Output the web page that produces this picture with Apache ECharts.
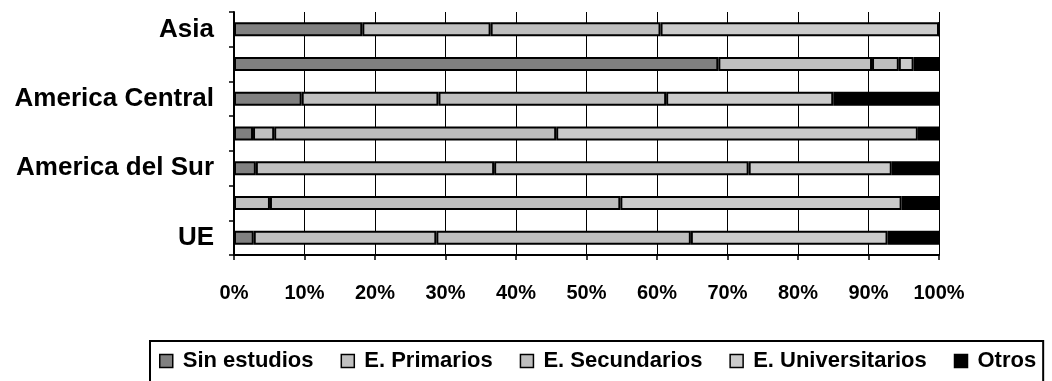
<!DOCTYPE html>
<html>
<head>
<meta charset="utf-8">
<script src="https://cdn.jsdelivr.net/npm/echarts@6/dist/echarts.min.js"></script>
<style>
  html, body { margin: 0; padding: 0; background: #fff; }
  #chart { width: 1052px; height: 381px; }
</style>
</head>
<body>
<div id="chart"></div>
<script>
// Regions, listed from the bottom of the axis upwards
const regions = ['UE', 'Resto de Europa', 'America del Sur', 'America del Norte', 'America Central', 'Africa', 'Asia'];

// Share of each education level per region (%)
const sinEstudios     = [2.8, 0,    3.1,  2.7,  9.6,  68.7, 18.2];
const primarios       = [25.9, 5.1, 33.8, 3.0,  19.4, 21.8, 18.2];
const secundarios     = [36.1, 49.7, 36.1, 40.0, 32.3, 3.8, 24.1];
const universitarios  = [27.9, 39.9, 20.3, 51.3, 23.7, 2.1, 39.5];
const otros           = [7.3, 5.3,  6.7,  3.0,  15.0, 3.6,  0];

const seriesNames = ['Sin estudios', 'E. Primarios', 'E. Secundarios', 'E. Universitarios', 'Otros'];
const seriesData = [sinEstudios, primarios, secundarios, universitarios, otros];
const seriesColors = ['#808080', '#c0c0c0', '#bebebe', '#cbcbcb', '#000000'];

const fontFamily = '"Liberation Sans", Arial, sans-serif';

const chart = echarts.init(document.getElementById('chart'), null, { renderer: 'canvas' });

chart.setOption({
  backgroundColor: '#ffffff',
  animation: false,
  grid: { left: 234, right: 113, top: 12, bottom: 126, containLabel: false },
  legend: {
    left: 150,
    top: 341,
    orient: 'horizontal',
    padding: [9, 7, 40, 9],
    borderColor: '#000',
    borderWidth: 2,
    itemWidth: 13,
    itemHeight: 13,
    itemGap: 27,
    icon: 'rect',
    itemStyle: { borderColor: '#000', borderWidth: 1.5 },
    textStyle: { fontFamily, fontWeight: 'bold', fontSize: 22, color: '#000', padding: [0, 0, 0, 5] },
    data: seriesNames
  },
  xAxis: {
    type: 'value',
    min: 0,
    max: 100,
    interval: 10,
    axisLine: { show: true, lineStyle: { color: '#000', width: 2 } },
    axisTick: { show: true, length: 5, lineStyle: { color: '#000', width: 1.5 } },
    splitLine: { show: true, lineStyle: { color: '#000', width: 1 } },
    axisLabel: {
      formatter: '{value}%',
      margin: 28,
      fontFamily, fontWeight: 'bold', fontSize: 20, color: '#000'
    }
  },
  yAxis: {
    type: 'category',
    data: regions,
    axisLine: { show: true, lineStyle: { color: '#000', width: 2 } },
    axisTick: { show: true, interval: 0, length: 5, lineStyle: { color: '#000', width: 1.5 } },
    splitLine: { show: false },
    axisLabel: {
      interval: 1,
      margin: 20,
      fontFamily, fontWeight: 'bold', fontSize: 26, color: '#000'
    }
  },
  series: seriesNames.map((name, i) => ({
    name,
    type: 'bar',
    stack: 'total',
    barWidth: 14,
    data: seriesData[i],
    itemStyle: { color: seriesColors[i], borderColor: '#000', borderWidth: 2 }
  }))
});
</script>
</body>
</html>
